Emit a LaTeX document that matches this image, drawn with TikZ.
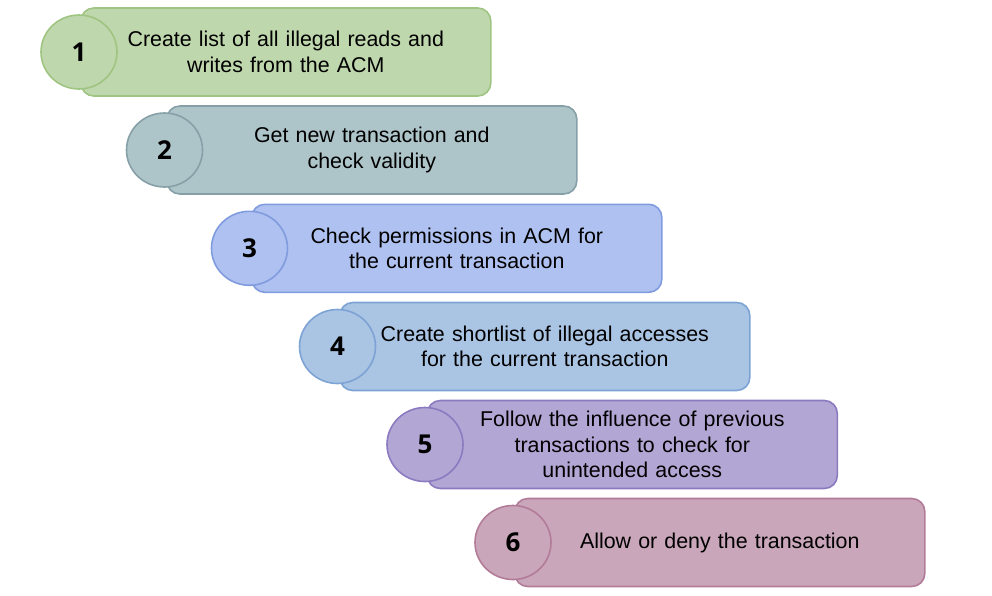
\documentclass[tikz,border=0pt]{standalone}
\usepackage{fontspec}
\setmainfont{Liberation Sans}
\newfontfamily\numfont{Open Sans}
\usetikzlibrary{shapes.geometric}
\definecolor{fA}{RGB}{191,215,172}\definecolor{sA}{RGB}{160,196,130}
\definecolor{fB}{RGB}{173,196,200}\definecolor{sB}{RGB}{135,160,168}
\definecolor{fC}{RGB}{175,193,240}\definecolor{sC}{RGB}{128,155,222}
\definecolor{fD}{RGB}{170,196,228}\definecolor{sD}{RGB}{125,163,213}
\definecolor{fE}{RGB}{178,166,212}\definecolor{sE}{RGB}{140,122,192}
\definecolor{fF}{RGB}{201,166,185}\definecolor{sF}{RGB}{178,124,152}
\tikzset{
  stepbox/.style={draw=#1, line width=1.6pt, rounded corners=13pt, minimum width=410pt, minimum height=88pt, anchor=west, inner sep=0pt, align=center, font=\fontsize{21.4}{25.5}\selectfont, text width=360pt},
  numcirc/.style={draw=#1, line width=1.6pt, ellipse, minimum width=76pt, minimum height=74pt, inner sep=0pt, font=\numfont\bfseries\fontsize{26}{26}\selectfont},
}
\begin{document}
\begin{tikzpicture}[x=1pt,y=-1pt]
\useasboundingbox (0,0) rectangle (992,595);
\node[stepbox=sA, fill=fA] (b1) at (80,52) {Create list of all illegal reads and\\writes from the ACM};
\node[numcirc=sA, fill=fA] (c1) at (79,52) {1};
\node[stepbox=sB, fill=fB] (b2) at (166,150) {Get new transaction and\\check validity};
\node[numcirc=sB, fill=fB] (c2) at (164.5,150) {2};
\node[stepbox=sC, fill=fC] (b3) at (251,248.3) {Check permissions in ACM for\\the current transaction};
\node[numcirc=sC, fill=fC] (c3) at (249.5,248.3) {3};
\node[stepbox=sD, fill=fD] (b4) at (339,346.5) {Create shortlist of illegal accesses\\for the current transaction};
\node[numcirc=sD, fill=fD] (c4) at (337.5,346.5) {4};
\node[stepbox=sE, fill=fE] (b5) at (426.5,444.5) {Follow the influence of previous\\transactions to check for\\unintended access};
\node[numcirc=sE, fill=fE] (c5) at (425,444.5) {5};
\node[stepbox=sF, fill=fF] (b6) at (514,542.5) {Allow or deny the transaction};
\node[numcirc=sF, fill=fF] (c6) at (513,542.5) {6};
\end{tikzpicture}
\end{document}
